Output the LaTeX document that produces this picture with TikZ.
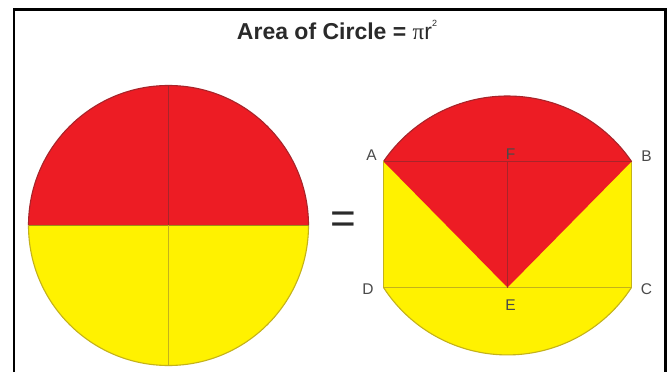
\documentclass[tikz,border=0pt]{standalone}
\usepackage{fontspec}
\setmainfont{Liberation Sans}
\newfontfamily\serifpi{Liberation Serif}
\definecolor{cred}{HTML}{ED1C24}
\definecolor{cyel}{HTML}{FFF200}
\definecolor{lred}{HTML}{A8242A}
\definecolor{lyel}{HTML}{C4B21A}
\definecolor{lab}{HTML}{4A4A4A}
\definecolor{ttl}{HTML}{2A2A2A}
\begin{document}
\begin{tikzpicture}[x=1pt,y=1pt,
  redline/.style={draw=lred,line width=1.1pt},
  yelline/.style={draw=lyel,line width=1.1pt},
  ptlabel/.style={text=lab,font=\fontsize{15.5}{15.5}\selectfont,inner sep=0pt}]
\useasboundingbox (0,0) rectangle (671,372);
\fill[white] (0,0) rectangle (671,372);
% frame
\draw[line width=2.6pt,line cap=butt] (14,0) -- (14,362.5) -- (665.5,362.5) -- (665.5,0);
% title
\node[inner sep=0pt,text=ttl] (title) at (337,342) {\fontsize{23}{23}\selectfont\bfseries Area of Circle = {\mdseries\serifpi π}{\mdseries r\raisebox{0.55em}{\fontsize{9}{9}\selectfont 2}}};
% left circle
\coordinate (O) at (168.5,146.5);
\fill[cred] (308.5,146.5) arc[start angle=0,end angle=180,radius=140] -- cycle;
\fill[cyel] (28.5,146.5) arc[start angle=180,end angle=360,radius=140] -- cycle;
\draw[redline] (308.5,146.5) arc[start angle=0,end angle=180,radius=140];
\draw[yelline] (28.5,146.5) arc[start angle=180,end angle=360,radius=140];
\draw[draw=lyel!80!black,line width=1pt] (28.5,146.5) -- (308.5,146.5);
\draw[redline] (168.5,146.5) -- (168.5,286.5);
\draw[yelline] (168.5,146.5) -- (168.5,6.5);
% equals
\node[inner sep=0pt,text=ttl] (eq) at (343.5,149) {\fontsize{44}{44}\selectfont =};
% right figure
\coordinate (A) at (383.5,210.5);
\coordinate (B) at (631.5,210.5);
\coordinate (C) at (631.5,84.5);
\coordinate (D) at (383.5,84.5);
\coordinate (E) at (507.5,84.5);
\coordinate (F) at (507.5,210.5);
\fill[cyel] (A) -- (B) -- (C) arc[start angle=327.08,end angle=212.92,radius=147.7] -- cycle;
\fill[cred] (A) arc[start angle=145.67,end angle=34.33,radius=150.2] -- (E) -- cycle;
\draw[redline] (A) arc[start angle=145.67,end angle=34.33,radius=150.2];
\draw[yelline] (D) arc[start angle=212.92,end angle=327.08,radius=147.7];
\draw[yelline] (A) -- (D);
\draw[yelline] (B) -- (C);
\draw[yelline] (D) -- (C);
\draw[redline] (A) -- (B);
\draw[redline] (F) -- (E);
% labels
\node[ptlabel] (lA) at (371.5,217) {A};
\node[ptlabel] (lF) at (510.5,218) {F};
\node[ptlabel] (lB) at (646.5,216) {B};
\node[ptlabel] (lD) at (368,83) {D};
\node[ptlabel] (lE) at (510.5,67) {E};
\node[ptlabel] (lC) at (646.5,83) {C};
\end{tikzpicture}
\end{document}
